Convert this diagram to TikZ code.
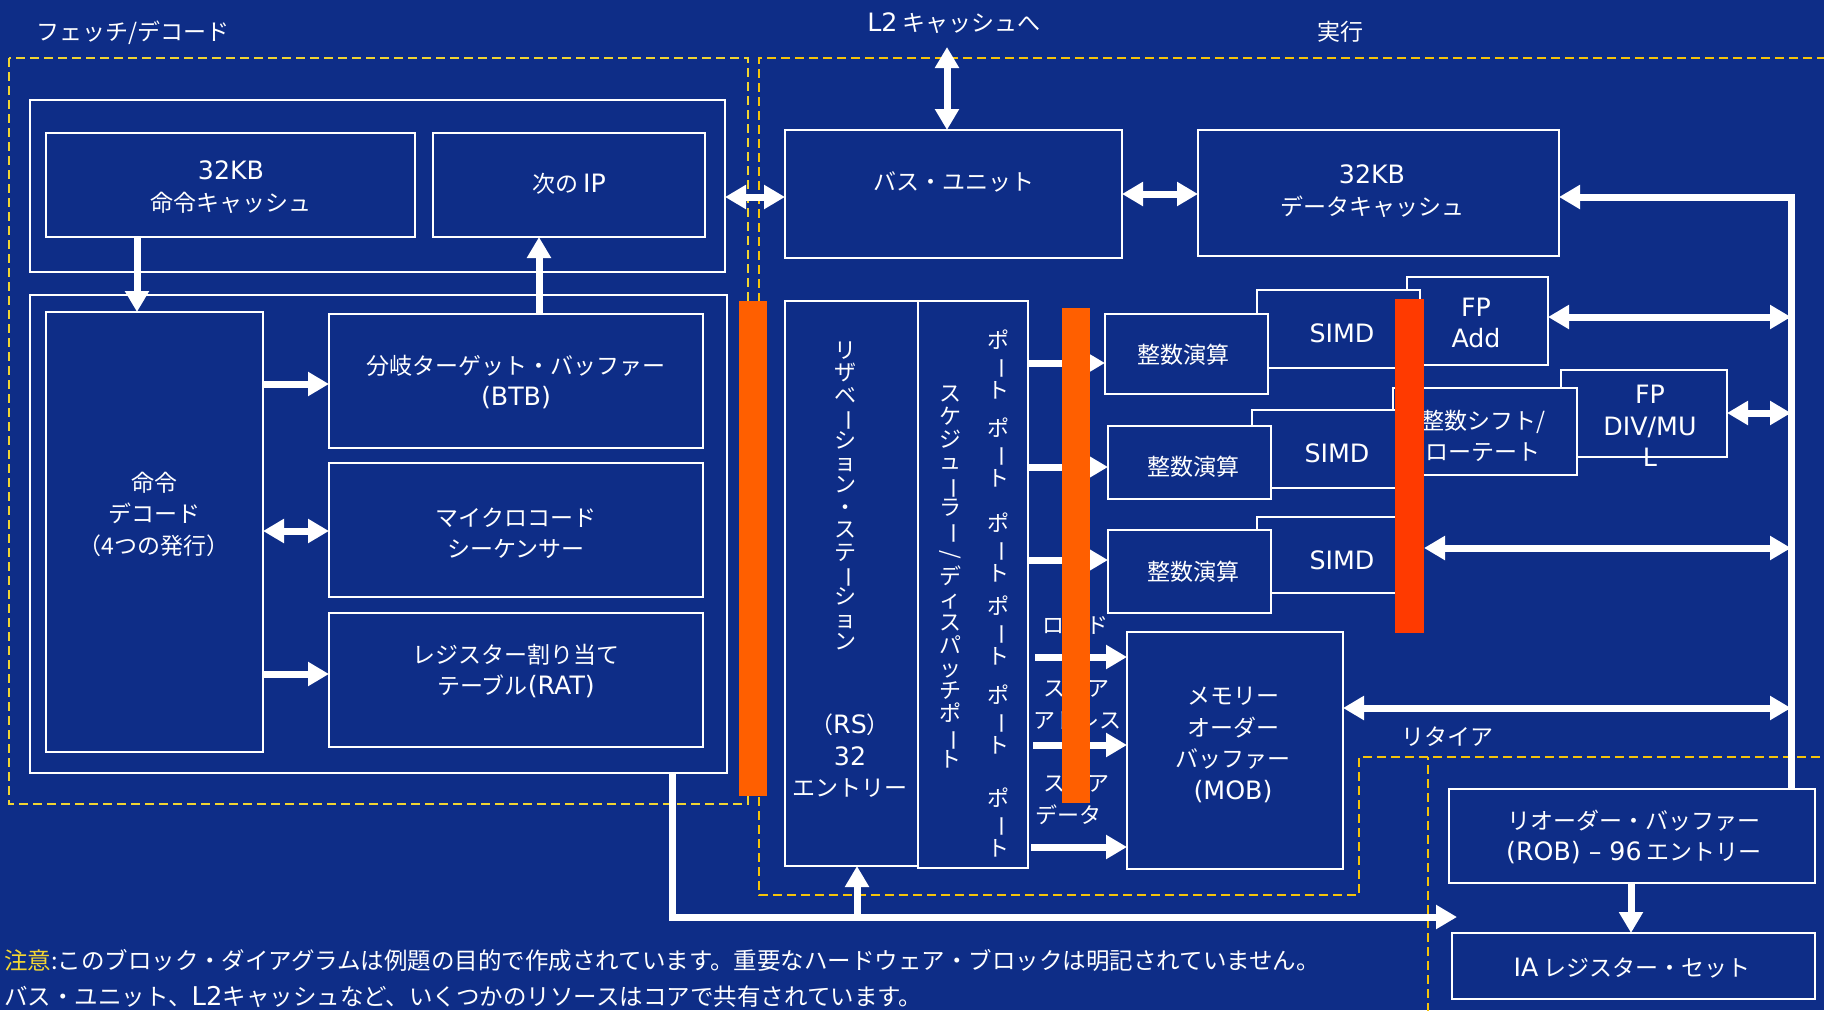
\documentclass[tikz,border=0pt]{standalone}
\usepackage{fontspec}
\usepackage{graphicx}
\setmainfont{Noto Sans CJK JP}
\newfontfamily\latfont[Scale=1.1]{DejaVu Sans}
\usetikzlibrary{arrows.meta,calc}
\definecolor{bg}{RGB}{14,45,135}
\definecolor{obar}{RGB}{255,95,0}
\definecolor{rbar}{RGB}{255,58,0}
\definecolor{ydash}{RGB}{245,195,10}
\definecolor{ydashb}{RGB}{240,212,50}
\definecolor{notecol}{RGB}{245,215,50}
\newcommand\La[1]{{\latfont #1}}
\newcommand\vb{\rotatebox[origin=c]{-90}{ー}}
\newcommand\vsl{\rotatebox[origin=c]{-90}{/}}
\newcommand\tightlines{\lineskiplimit-100pt\relax\lineskip0pt\relax}
\newcommand\mybox[5]{%
  \pgfmathsetmacro\bxw{#4-#2}\pgfmathsetmacro\bxh{#5-#3}%
  \pgfmathsetmacro\bxx{(#2+#4)/2}\pgfmathsetmacro\bxy{(#3+#5)/2}%
  \node[box, minimum width=\bxw pt, minimum height=\bxh pt] (#1) at (\bxx,\bxy) {};}
\tikzset{
  box/.style={draw=white, line width=2pt, fill=bg, inner sep=0pt, outer sep=0pt},
  txt/.style={text=white, align=center, font=\fontsize{23}{31.5}\selectfont, inner sep=0pt},
  vtxt/.style={text=white, align=center, inner sep=0pt},
  warr/.style={draw=white, line width=7pt, -{Triangle[width=23pt,length=21pt]}},
  wdbl/.style={draw=white, line width=7pt, {Triangle[width=23pt,length=21pt]}-{Triangle[width=23pt,length=21pt]}},
  barbox/.style={draw=none, inner sep=0pt, outer sep=0pt},
  dsh/.style={draw=ydash, line width=2pt, dash pattern=on 9pt off 5pt},
  dshb/.style={draw=ydashb, line width=2pt, dash pattern=on 9pt off 5pt},
}
\begin{document}
\begin{tikzpicture}[x=1pt,y=-1pt]
\useasboundingbox (0,0) rectangle (1824,1010);
\fill[bg] (0,0) rectangle (1824,1010);

% dashed regions
\draw[dshb] (9,58) rectangle (748,804);
\draw[dsh] (1826,58) -- (759,58) -- (759,895) -- (1359,895) -- (1359,757) -- (1826,757);
\draw[dsh] (1428,1012) -- (1428,757);

% titles
\node[txt, anchor=west] (tfd) at (36,33) {フェッチ/デコード};
\node[txt] (tl2) at (954,23) {\La{L2} キャッシュへ};
\node[txt] (tex) at (1340,32) {実行};

% boxes
\mybox{fbox1}{30}{100}{725}{272}
\mybox{cache}{46}{133}{415}{237}
\mybox{nextip}{433}{133}{705}{237}
\mybox{fbox2}{30}{295}{727}{773}
\mybox{decode}{46}{312}{263}{752}
\mybox{btb}{329}{314}{703}{448}
\mybox{micro}{329}{463}{703}{597}
\mybox{rat}{329}{613}{703}{747}
\mybox{bus}{785}{130}{1122}{258}
\mybox{dcache}{1198}{130}{1559}{256}
\mybox{rs}{785}{301}{918}{866}
\mybox{sched}{918}{301}{1028}{868}
\mybox{fpadd}{1407}{277}{1548}{365}
\mybox{simd1}{1257}{290}{1420}{368}
\mybox{int1}{1105}{314}{1268}{394}
\mybox{fpdiv}{1561}{370}{1727}{457}
\mybox{shift}{1393}{388}{1577}{475}
\mybox{simd2}{1252}{410}{1410}{488}
\mybox{int2}{1108}{426}{1271}{499}
\mybox{simd3}{1257}{517}{1410}{593}
\mybox{int3}{1108}{530}{1271}{613}
\mybox{mob}{1127}{632}{1343}{869}
\mybox{rob}{1449}{789}{1815}{883}
\mybox{ia}{1452}{933}{1815}{999}

% box texts
\node[txt] (tcache) at (231,187) {\La{32KB}\\命令キャッシュ};
\node[txt] (tnext) at (569,184) {次の \La{IP}};
\node[txt] (tbus) at (954,182) {バス・ユニット};
\node[txt] (tdc) at (1372,191) {\La{32KB}\\データキャッシュ};
\node[txt] (tdec) at (154,514) {命令\\デコード\\（4つの発行）};
\node[txt] (tbtb) at (516,382) {分岐ターゲット・バッファー\\\La{(BTB)}};
\node[txt] (tmic) at (516,533) {マイクロコード\\シーケンサー};
\node[txt] (trat) at (516,671) {レジスター割り当て\\テーブル\La{(RAT)}};
\node[txt] (tint1) at (1183,355) {整数演算};
\node[txt] (tint2) at (1193,467) {整数演算};
\node[txt] (tint3) at (1193,572) {整数演算};
\node[txt] (tsimd1) at (1342,333) {\La{SIMD}};
\node[txt] (tsimd2) at (1337,453) {\La{SIMD}};
\node[txt] (tsimd3) at (1342,560) {\La{SIMD}};
\node[txt] (tfpa) at (1476,323) {\La{FP}\\\La{Add}};
\node[txt] (tfpd) at (1650,426) {\La{FP}\\\La{DIV/MU}\\\La{L}};
\node[txt] (tshift) at (1483,436) {整数シフト/\\ローテート};
\node[txt] (tmob) at (1233,745) {メモリー\\オーダー\\バッファー\\\La{(MOB)}};
\node[txt] (tret) at (1447,737) {リタイア};
\node[txt] (trob) at (1634,837) {リオーダー・バッファー\\\La{(ROB) – 96} エントリー};
\node[txt] (tia) at (1632,968) {\La{IA} レジスター・セット};
\node[txt] (trs) at (850,756) {（\La{RS}）\\\La{32}\\エントリー};

% vertical texts
\node[vtxt, font={\fontsize{22}{22.4}\selectfont\tightlines}] (vrs) at (845,496)
  {リ\\ザ\\ベ\\\vb\\シ\\ョ\\ン\\・\\ス\\テ\\\vb\\シ\\ョ\\ン};
\node[vtxt, font={\fontsize{22}{22.9}\selectfont\tightlines}] (vsch) at (950,577)
  {ス\\ケ\\ジ\\ュ\\\vb\\ラ\\\vb\\\vsl\\デ\\ィ\\ス\\パ\\ッ\\チ\\ポ\\\vb\\ト};
\foreach \py [count=\i] in {364,452,547,630,719,822}{
  \node[vtxt, font={\fontsize{22}{25}\selectfont\tightlines}] (vport\i) at (998,\py) {ポ\\\vb\\ト};
}

% load/store labels
\node[txt, font=\fontsize{22}{26}\selectfont] (lload) at (1075,625) {ロード};
\node[txt, font=\fontsize{22}{26}\selectfont] (lst1) at (1076,688) {ストア};
\node[txt, font=\fontsize{22}{26}\selectfont] (ladr) at (1077,720) {アドレス};
\node[txt, font=\fontsize{22}{26}\selectfont] (lst2) at (1076,783) {ストア};
\node[txt, font=\fontsize{22}{26}\selectfont] (ldat) at (1068,815) {データ};

% notes
\node[txt, anchor=west, font=\fontsize{23.5}{30}\selectfont] (note1) at (4,960)
  {\textcolor{notecol}{注意}:このブロック・ダイアグラムは例題の目的で作成されています。重要なハードウェア・ブロックは明記されていません。};
\node[txt, anchor=west, font=\fontsize{23.5}{30}\selectfont] (note2) at (4,997)
  {バス・ユニット、\La{L2}キャッシュなど、いくつかのリソースはコアで共有されています。};

% connectors: fetch/decode
\draw[warr] (cache.south -| 137,0) -- (decode.north -| 137,0);
\draw[warr] (btb.north -| 539,0) -- (nextip.south -| 539,0);
\draw[warr] (decode.east |- 0,384) -- (btb.west |- 0,384);
\draw[wdbl] (decode.east |- 0,531) -- (micro.west |- 0,531);
\draw[warr] (decode.east |- 0,674) -- (rat.west |- 0,674);
\draw[wdbl] (fbox1.east |- 0,197) -- (bus.west |- 0,197);
\draw[wdbl] (bus.east |- 0,194) -- (dcache.west |- 0,194);
\coordinate (l2top) at (947,47);
\draw[wdbl] (l2top) -- (bus.north -| l2top);

% right bus line
\coordinate (rc) at (1791,197);
\draw[warr] (rob.north -| rc) -- (rc) -- (dcache.east |- rc);
\draw[wdbl] (fpadd.east |- 0,317) -- (rc |- 0,317);
\draw[wdbl] (fpdiv.east |- 0,413) -- (rc |- 0,413);
\draw[wdbl] (mob.east |- 0,708) -- (rc |- 0,708);
\draw[warr] (rob.south -| 1631,0) -- (ia.north -| 1631,0);

% bottom line
\coordinate (bl) at (672,917);
\coordinate (bt) at (1457,917);
\coordinate (rsb) at (857,917);
\draw[warr] (fbox2.south -| bl) -- (bl) -- (bt);
\draw[warr] (rsb) -- (rs.south -| rsb);

% ports
\draw[warr] (sched.east |- 0,363) -- (int1.west |- 0,363);
\draw[warr] (sched.east |- 0,467) -- (int2.west |- 0,467);
\draw[warr] (sched.east |- 0,560) -- (int3.west |- 0,560);
\coordinate (ld1) at (1035,657);
\coordinate (ld2) at (1033,745);
\coordinate (ld3) at (1031,847);
\draw[warr] (ld1) -- (mob.west |- ld1);
\draw[warr] (ld2) -- (mob.west |- ld2);
\draw[warr] (ld3) -- (mob.west |- ld3);

% bars
\node[barbox, fill=obar, minimum width=28pt, minimum height=495pt] (bar1) at (753,548.5) {};
\node[barbox, fill=obar, minimum width=28pt, minimum height=495pt] (bar2) at (1076,555.5) {};
\node[barbox, fill=rbar, minimum width=29pt, minimum height=334pt] (bar3) at (1409.5,466) {};
\draw[wdbl] (bar3.east |- 0,548) -- (rc |- 0,548);
\end{tikzpicture}
\end{document}
